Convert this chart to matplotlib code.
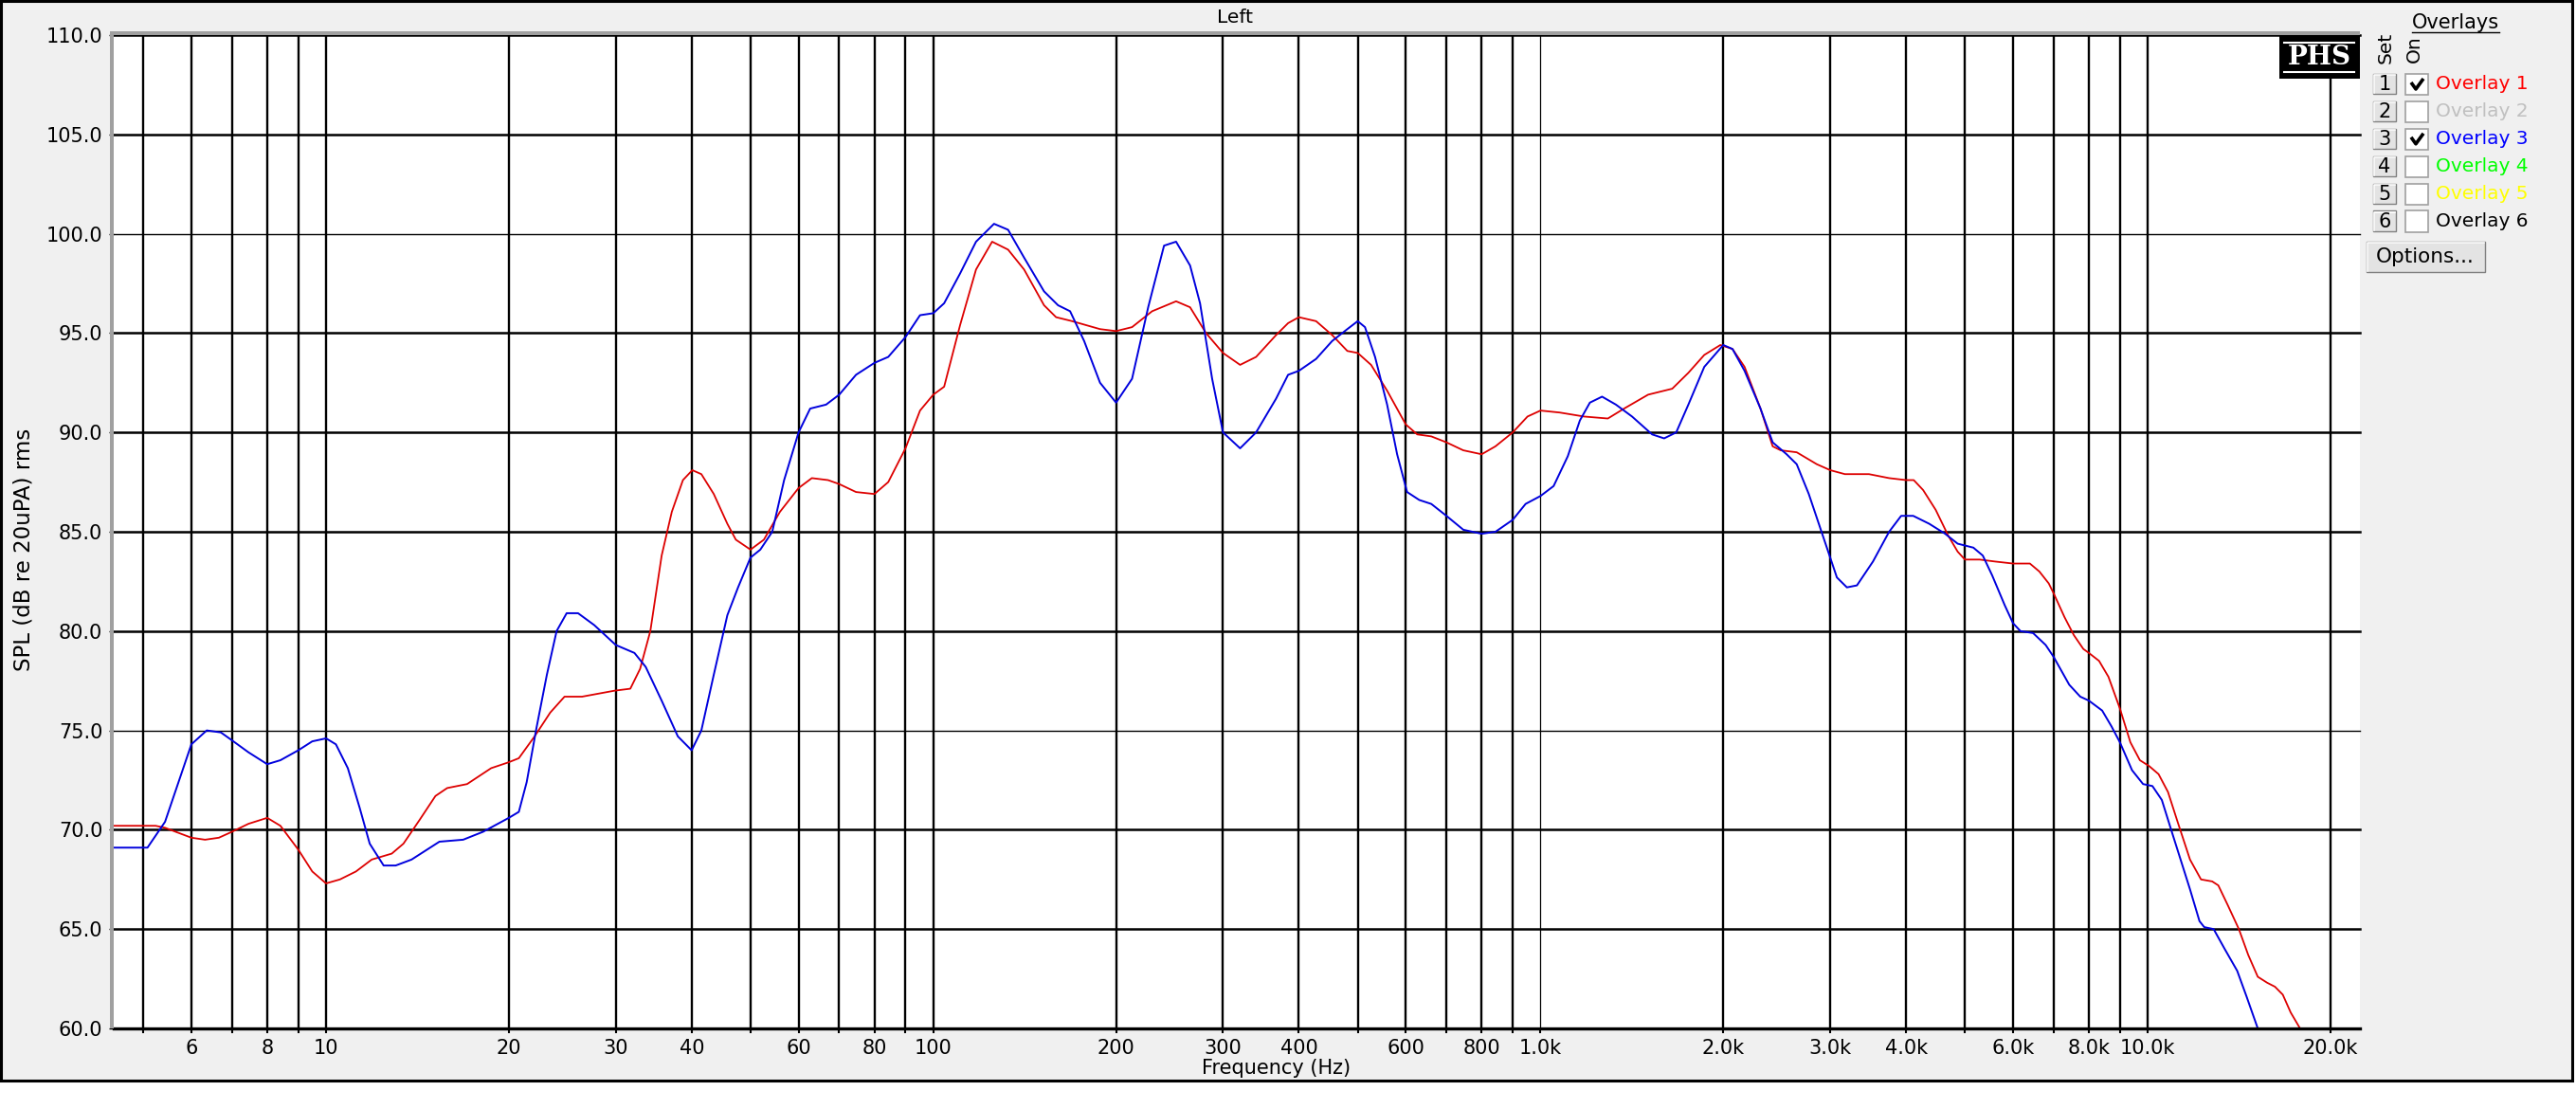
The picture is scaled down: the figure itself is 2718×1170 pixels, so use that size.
import numpy as np
import matplotlib
matplotlib.use("Agg")
import matplotlib.pyplot as plt
from matplotlib.patches import Rectangle
from matplotlib.lines import Line2D

# ---------------- data ----------------
red_freq = [4.47, 5.24, 5.43, 6.0, 6.32, 6.66, 7.0, 7.45, 8.0, 8.41, 9.0, 9.49, 10.0, 10.54, 11.2,
            11.89, 12.83, 13.41, 14.26, 15.14, 15.83, 17.07, 18.7, 20.0, 20.77, 22.05, 23.4, 24.7,
            26.4, 29.85, 31.7, 32.9, 34.2, 35.7, 37.1, 38.7, 40.1, 41.5, 43.5, 45.8, 47.3, 50.0,
            52.6, 55.9, 60.0, 63.1, 67.1, 70.0, 74.6, 80.0, 84.3, 90.0, 95.1, 100.0, 104.2, 110.7,
            117.6, 125.0, 132.8, 141.1, 152.2, 159.3, 169.3, 188.2, 200.0, 212.5, 229.3, 251.1,
            264.8, 281.3, 300.0, 320.1, 340.1, 366.9, 384.0, 400.0, 427.0, 453.8, 480.7, 500.0,
            526.0, 559.0, 600.0, 626.6, 661.0, 700.0, 746.0, 800.0, 843.0, 900.0, 952.0, 1000.0,
            1076.0, 1179.0, 1291.0, 1373.0, 1504.0, 1648.0, 1752.0, 1861.0, 1978.0, 2071.0, 2168.0,
            2303.0, 2412.0, 2486.0, 2642.0, 2851.0, 3000.0, 3172.0, 3475.0, 3751.0, 4000.0, 4118.0,
            4267.0, 4476.0, 4694.0, 4864.0, 5000.0, 5287.0, 5610.0, 6000.0, 6397.0, 6630.0, 6871.0,
            7000.0, 7295.0, 7556.0, 7834.0, 8000.0, 8315.0, 8616.0, 9000.0, 9365.0, 9708.0, 10060.0,
            10420.0, 10800.0, 11200.0, 11740.0, 12240.0, 12770.0, 13070.0, 13550.0, 14130.0,
            14640.0, 15180.0, 15730.0, 16200.0, 16690.0, 17200.0, 17820.0, 22360.0]
red_spl = [70.2, 70.2, 70.1, 69.6, 69.5, 69.6, 69.9, 70.3, 70.6, 70.2, 69.0, 67.9, 67.3, 67.5, 67.9,
           68.5, 68.8, 69.3, 70.5, 71.7, 72.1, 72.3, 73.1, 73.4, 73.6, 74.7, 75.9, 76.7,
           76.7, 77.0, 77.1, 78.1, 80.0, 83.8, 86.0, 87.6, 88.1, 87.9, 86.9, 85.4, 84.6, 84.1,
           84.6, 86.0, 87.2, 87.7, 87.6, 87.4, 87.0, 86.9, 87.5, 89.2, 91.1, 91.9, 92.3, 95.4,
           98.2, 99.6, 99.2, 98.2, 96.4, 95.8, 95.6, 95.2, 95.1, 95.3, 96.1, 96.6,
           96.3, 95.0, 94.0, 93.4, 93.8, 94.9, 95.5, 95.8, 95.6, 94.9, 94.1, 94.0,
           93.4, 92.1, 90.4, 89.9, 89.8, 89.5, 89.1, 88.9, 89.3, 90.0, 90.8, 91.1,
           91.0, 90.8, 90.7, 91.2, 91.9, 92.2, 93.0, 93.9, 94.4, 94.2, 93.3,
           91.2, 89.3, 89.1, 89.0, 88.4, 88.1, 87.9, 87.9, 87.7, 87.6, 87.6,
           87.1, 86.1, 84.8, 84.0, 83.6, 83.6, 83.5, 83.4, 83.4, 83.0, 82.4,
           81.9, 80.7, 79.8, 79.1, 78.9, 78.5, 77.7, 76.1, 74.4, 73.5, 73.2,
           72.8, 71.9, 70.4, 68.5, 67.5, 67.4, 67.2, 66.2, 65.0,
           63.7, 62.6, 62.3, 62.1, 61.7, 60.8, 60.0, 60.0]

blue_freq = [4.47, 5.08, 5.43, 6.0, 6.36, 6.71, 7.0, 7.45, 8.0, 8.41, 9.0, 9.49, 10.0, 10.38, 10.86,
             11.36, 11.8, 12.44, 13.02, 13.83, 15.37, 16.82, 18.14, 20.0, 20.77, 21.4, 22.2, 23.1,
             23.97, 24.9, 26.0, 27.65, 30.0, 32.2, 33.6, 35.7, 37.96, 40.0, 41.5, 43.5, 45.8, 47.7,
             50.0, 51.9, 54.3, 56.8, 60.0, 62.7, 66.6, 70.0, 74.6, 80.0, 84.3, 90.0, 95.1, 100.0,
             104.2, 110.7, 117.6, 125.9, 132.8, 141.1, 152.2, 160.5, 168.0, 177.2, 188.2, 200.0,
             212.5, 225.9, 239.9, 251.1, 264.8, 275.0, 287.9, 300.0, 320.1, 340.1, 366.9, 384.0,
             400.0, 427.0, 453.8, 480.7, 500.0, 514.0, 534.0, 559.0, 580.6, 603.0, 631.4, 661.0,
             700.0, 746.4, 800.0, 843.2, 900.0, 945.0, 1000.0, 1051.0, 1109.0, 1161.0, 1206.0,
             1263.0, 1331.0, 1415.0, 1527.0, 1598.0, 1673.0, 1752.0, 1861.0, 2000.0, 2071.0, 2168.0,
             2303.0, 2412.0, 2543.0, 2642.0, 2766.0, 2895.0, 3000.0, 3077.0, 3196.0, 3320.0, 3528.0,
             3751.0, 3926.0, 4110.0, 4368.0, 4638.0, 4864.0, 5163.0, 5351.0, 5545.0, 5815.0, 6000.0,
             6172.0, 6475.0, 6791.0, 7000.0, 7426.0, 7743.0, 8000.0, 8414.0, 8718.0, 9000.0, 9422.0,
             9826.0, 10180.0, 10550.0, 10930.0, 11330.0, 11740.0, 12170.0, 12390.0, 12840.0,
             13390.0, 14040.0, 14550.0, 15180.0, 22360.0]
blue_spl = [69.1, 69.1, 70.4, 74.3, 75.0, 74.9, 74.5, 73.9, 73.3, 73.5, 74.0, 74.45, 74.6, 74.3, 73.1,
            71.1, 69.3, 68.2, 68.2, 68.5, 69.4, 69.5, 69.9, 70.6, 70.9, 72.4, 75.1, 77.8,
            80.0, 80.9, 80.9, 80.3, 79.3, 78.9, 78.2, 76.5, 74.7, 74.0, 75.0, 77.8, 80.8, 82.2,
            83.7, 84.1, 85.0, 87.6, 90.0, 91.2, 91.4, 91.9, 92.9, 93.5, 93.8, 94.8, 95.9, 96.0,
            96.5, 98.0, 99.6, 100.5, 100.2, 98.8, 97.1, 96.4, 96.1, 94.6, 92.5, 91.5,
            92.7, 96.3, 99.4, 99.6, 98.4, 96.5, 92.7, 90.0, 89.2, 90.0, 91.7, 92.9,
            93.1, 93.7, 94.6, 95.2, 95.6, 95.3, 93.8, 91.4, 88.9, 87.0, 86.6, 86.4,
            85.8, 85.1, 84.9, 85.0, 85.6, 86.4, 86.8, 87.3, 88.8, 90.6, 91.5,
            91.8, 91.4, 90.8, 89.9, 89.7, 90.0, 91.4, 93.3, 94.4, 94.2, 93.1,
            91.2, 89.5, 88.9, 88.4, 86.9, 85.1, 83.7, 82.7, 82.2, 82.3, 83.5,
            85.0, 85.8, 85.8, 85.4, 84.9, 84.4, 84.2, 83.8, 82.8, 81.3, 80.4,
            80.0, 79.9, 79.3, 78.7, 77.3, 76.7, 76.5, 76.0, 75.2, 74.4, 73.0,
            72.3, 72.2, 71.5, 70.0, 68.5, 67.0, 65.4, 65.1, 65.0,
            64.0, 62.9, 61.6, 60.0, 60.0]

grid_freqs = [5, 6, 7, 8, 9, 10, 20, 30, 40, 50, 60, 70, 80, 90, 100, 200, 300, 400, 500, 600,
              700, 800, 900, 1000, 2000, 3000, 4000, 5000, 6000, 7000, 8000, 9000, 10000, 20000]
grid_labels = ["", "6", "", "8", "", "10", "20", "30", "40", "", "60", "", "80", "", "100",
               "200", "300", "400", "", "600", "", "800", "", "1.0k", "2.0k", "3.0k", "4.0k", "",
               "6.0k", "", "8.0k", "", "10.0k", "20.0k"]
spl_ticks = [60, 65, 70, 75, 80, 85, 90, 95, 100, 105, 110]

overlay_names = ["Overlay 1", "Overlay 2", "Overlay 3", "Overlay 4", "Overlay 5", "Overlay 6"]
overlay_colors = ["#ff0000", "#c0c0c0", "#0000ff", "#00ff00", "#ffff00", "#000000"]
overlay_on = [True, False, True, False, False, False]

# ---------------- layout helpers ----------------
W, H = 2718, 1170
fig = plt.figure(figsize=(W / 100, H / 100), dpi=100, facecolor="white")
FONT = ["DejaVu Sans"]


def fx(x):
    return x / W


def fy(y):
    return 1 - y / H


def frect(x0, y0, x1, y1, **kw):
    r = Rectangle((fx(x0), fy(y1)), (x1 - x0) / W, (y1 - y0) / H,
                  transform=fig.transFigure, **kw)
    fig.add_artist(r)
    return r


def fline(xs, ys, **kw):
    l = Line2D([fx(x) for x in xs], [fy(y) for y in ys], transform=fig.transFigure, **kw)
    fig.add_artist(l)
    return l


def ftext(x, y, s, **kw):
    kw.setdefault("family", FONT)
    return fig.text(fx(x), fy(y), s, **kw)


# panel background with black frame
frect(1, 1, 2714, 1140, facecolor="#f0f0f0", edgecolor="black", linewidth=2.2, zorder=-10)

# ---------------- axes ----------------
L, R, T, B = 120, 2490, 37, 1085
ax = fig.add_axes([fx(L), fy(B), (R - L) / W, (B - T) / H])
ax.set_facecolor("white")
ax.set_xscale("log")
ax.set_xlim(4.47, 22360)
ax.set_ylim(60, 110)

for s in ["top", "right", "left"]:
    ax.spines[s].set_visible(False)
ax.spines["bottom"].set_linewidth(2.4)
ax.spines["bottom"].set_color("black")
ax.spines["bottom"].set_zorder(4)

thin_h = [100, 75]
for v in spl_ticks:
    lw = 1.0 if v in thin_h else 1.8
    ax.axhline(v, color="black", linewidth=lw, zorder=1, clip_on=False)
for f in grid_freqs:
    lw = 0.9 if f == 1000 else 1.7
    ax.axvline(f, color="black", linewidth=lw, zorder=1)

ax.plot(red_freq, red_spl, color="#dd0000", linewidth=1.3, zorder=3)
ax.plot(blue_freq, blue_spl, color="#0000dd", linewidth=1.4, zorder=3)

ax.set_xticks(grid_freqs)
ax.set_xticklabels(grid_labels)
ax.xaxis.set_minor_locator(matplotlib.ticker.NullLocator())
ax.set_yticks(spl_ticks)
ax.set_yticklabels([f"{v:.1f}" for v in spl_ticks])
ax.tick_params(axis="x", direction="out", length=3.8, width=1.5, pad=4,
               labelsize=15, colors="black")
ax.tick_params(axis="y", direction="out", length=3.4, width=1.0, pad=5,
               labelsize=15, colors="black")
for lab in ax.get_xticklabels() + ax.get_yticklabels():
    lab.set_family(FONT)

# 3D grey borders on top and left of the plot
frect(116, 33, 120, B, facecolor="#a0a0a0", edgecolor="none", zorder=2)
frect(116, 33, R, 37, facecolor="#a0a0a0", edgecolor="none", zorder=2)

# titles
ftext(1303, 18, "Left", ha="center", va="center", fontsize=14.5)
ftext(1347, 1127, "Frequency (Hz)", ha="center", va="center", fontsize=15)
ftext(25, 580, "SPL (dB re 20uPA) rms", ha="center", va="center", rotation=90, fontsize=16.5)

# PHS logo
frect(2405, 38, 2490, 83, facecolor="black", edgecolor="none", zorder=5)
fline([2410, 2484], [45, 45], color="white", linewidth=1.5, zorder=6)
fline([2410, 2484], [76, 76], color="white", linewidth=1.5, zorder=6)
fig.text(fx(2447), fy(61), "PHS", ha="center", va="center", color="white",
         fontsize=20, fontweight="bold", family=["DejaVu Serif"], zorder=6)

# ---------------- overlay panel ----------------
ftext(2591, 24, "Overlays", ha="center", va="center", fontsize=15)
fline([2545, 2637], [34, 34], color="black", linewidth=1.0)
ftext(2517, 50, "Set", ha="center", va="center", rotation=90, fontsize=14.5)
ftext(2547, 52, "On", ha="center", va="center", rotation=90, fontsize=14.5)

row0, drow = 89, 28.9
for i, (name, col, on) in enumerate(zip(overlay_names, overlay_colors, overlay_on)):
    yc = row0 + i * drow
    # set button
    frect(2504, yc - 11, 2528, yc + 10, facecolor="#e3e3e3", edgecolor="#808080",
          linewidth=1.0, zorder=5)
    fline([2505, 2505, 2527], [yc + 9, yc - 10, yc - 10], color="white", linewidth=1.2, zorder=6)
    ftext(2516, yc, str(i + 1), ha="center", va="center", fontsize=15, zorder=7)
    # check box
    frect(2538, yc - 11, 2562, yc + 11, facecolor="white", edgecolor="#a0a0a0",
          linewidth=1.2, zorder=5)
    if on:
        fline([2544, 2549, 2557], [yc - 2, yc + 5, yc - 6], color="black",
              linewidth=2.6, zorder=6, solid_capstyle="butt")
    ftext(2570, yc, name, ha="left", va="center", fontsize=14.5, color=col)

# options button
frect(2497, 255, 2622, 287, facecolor="#e3e3e3", edgecolor="#808080", linewidth=1.0, zorder=5)
fline([2498, 2498, 2621], [286, 256, 256], color="white", linewidth=1.2, zorder=6)
ftext(2559, 271, "Options...", ha="center", va="center", fontsize=15.5, zorder=7)

fig.savefig("out.png", dpi=100, facecolor="white")
